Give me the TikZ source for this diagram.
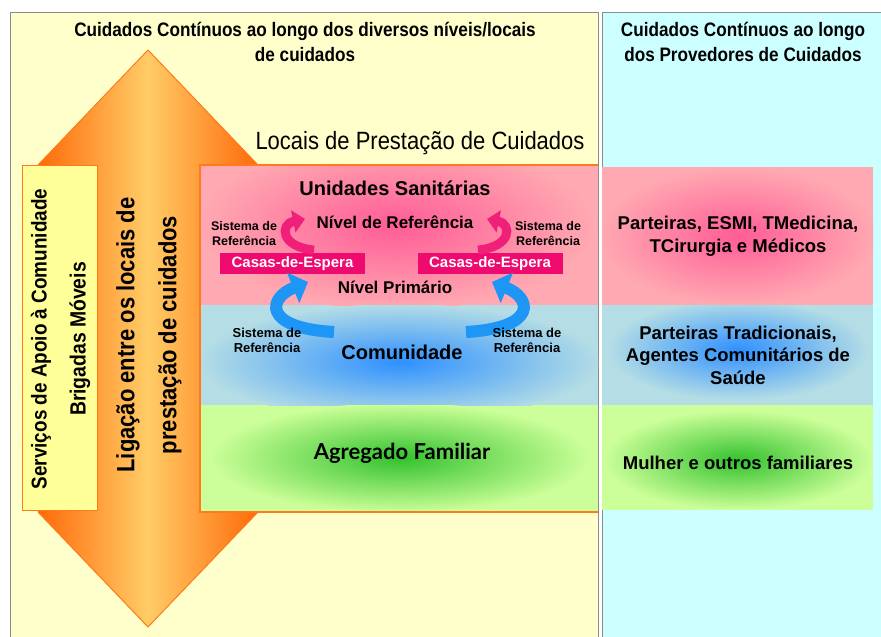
\documentclass[tikz,border=0pt]{standalone}
\usepackage{fontspec}
\setmainfont{Liberation Sans}
\newfontfamily\condf{Liberation Sans}[FakeStretch=0.88]
\newfontfamily\latof{Lato}
\usetikzlibrary{arrows.meta}
\definecolor{panelY}{HTML}{FFFFCC}
\definecolor{panelC}{HTML}{CCFFFF}
\definecolor{borderG}{HTML}{8C8C8C}
\definecolor{pinkB}{HTML}{FFAAB2}
\definecolor{pinkC}{HTML}{FF5C96}
\definecolor{blueB}{HTML}{B4DDE5}
\definecolor{blueC}{HTML}{2E90FF}
\definecolor{greenB}{HTML}{CCFF99}
\definecolor{greenC}{HTML}{33C22E}
\definecolor{orD}{HTML}{FF6A0A}
\definecolor{orL}{HTML}{FFCC66}
\definecolor{orLine}{HTML}{FF7A1A}
\definecolor{boxY}{HTML}{FFFF99}
\definecolor{casa}{HTML}{EE0A6E}
\definecolor{arrP}{HTML}{F0207A}
\definecolor{arrB}{HTML}{1E96F5}
\tikzset{
  hdr/.style={font=\condf\bfseries\fontsize{19.5}{25}\selectfont, align=center, inner sep=0pt},
  lbl/.style={font=\bfseries\fontsize{#1}{#1}\selectfont, align=center, inner sep=0pt},
  small/.style={font=\bfseries\fontsize{#1}{15}\selectfont, align=center, inner sep=0pt},
  casabox/.style={fill=casa, text=white, minimum width=145pt, minimum height=21pt, inner sep=0pt, font=\bfseries\fontsize{15}{15}\selectfont},
  rtext/.style={rotate=90, align=center, inner sep=0pt},
  parrow/.style={arrP, line width=9pt, -{Triangle[length=12pt, width=22pt]}},
  barrow/.style={arrB, line width=12pt, -{Triangle[length=16pt, width=32pt]}}
}
\begin{document}
\begin{tikzpicture}[x=1pt, y=-1pt]
\useasboundingbox (0,0) rectangle (881,637);
% panels
\draw[borderG, fill=panelY, line width=1pt] (10,12) rectangle (598,650);
\draw[borderG, fill=panelC, line width=1pt] (602,12) rectangle (895,650);
% big double arrow
\shadedraw[draw=orLine, line width=1pt, left color=orD, right color=orD, middle color=orL]
  (148,50) -- (258,165) -- (258,512) -- (148,627) -- (38,512) -- (38,165) -- cycle;
% service box
\node[draw=orLine, fill=boxY, minimum width=75pt, minimum height=345pt, anchor=north west, inner sep=0pt, line width=1pt] (svc) at (22,165) {};
% bands left
\fill[pinkB] (200,165) rectangle (598,305);
\fill[blueB] (200,305) rectangle (598,405);
\fill[greenB] (200,405) rectangle (598,512);
\begin{scope}
  \clip (200,165) rectangle (598,305);
  \shade[inner color=pinkC, outer color=pinkB] (396,225) ellipse (200pt and 85pt);
\end{scope}
\begin{scope}
  \clip (200,305) rectangle (598,405);
  \shade[inner color=blueC, outer color=blueB] (400,362) ellipse (200pt and 58pt);
\end{scope}
\begin{scope}
  \clip (200,405) rectangle (598,512);
  \shade[inner color=greenC, outer color=greenB] (400,458) ellipse (190pt and 55pt);
\end{scope}
\draw[orLine, line width=1.2pt] (598,165) -- (200,165) -- (200,512) -- (598,512);
% bands right
\fill[pinkB] (602,167) rectangle (873,305);
\fill[blueB] (602,305) rectangle (873,405);
\fill[greenB] (602,405) rectangle (873,510);
\begin{scope}
  \clip (602,167) rectangle (873,305);
  \shade[inner color=pinkC, outer color=pinkB] (738,236) ellipse (140pt and 70pt);
\end{scope}
\begin{scope}
  \clip (602,305) rectangle (873,405);
  \shade[inner color=blueC, outer color=blueB] (738,350) ellipse (130pt and 50pt);
\end{scope}
\begin{scope}
  \clip (602,405) rectangle (873,510);
  \shade[inner color=greenC, outer color=greenB] (738,460) ellipse (135pt and 50pt);
\end{scope}
% headers
\node[hdr] (h1) at (305,42) {Cuidados Contínuos ao longo dos diversos níveis/locais\\de cuidados};
\node[hdr] (h2) at (743,42) {Cuidados Contínuos ao longo\\dos Provedores de Cuidados};
\node[inner sep=0pt, font=\condf\fontsize{25}{27}\selectfont] (loc) at (420,143) {Locais de Prestação de Cuidados};
% rotated texts
\node[rtext, font=\condf\bfseries\fontsize{21.5}{20}\selectfont] (svct) at (41,339) {Serviços de Apoio à Comunidade};
\node[rtext, font=\condf\bfseries\fontsize{22}{20}\selectfont] (brig) at (80,339) {Brigadas Móveis};
\node[rtext, font=\condf\bfseries\fontsize{25}{42}\selectfont] (lig) at (149,335) {Ligação entre os locais de\\prestação de cuidados};
% casas
\node[casabox] (ce1) at (292.5,263.5) {Casas-de-Espera};
\node[casabox] (ce2) at (490,263.5) {Casas-de-Espera};
% pink band texts
\node[lbl=20] (us) at (395,188) {Unidades Sanitárias};
\node[lbl=17] (nr) at (395,222) {Nível de Referência};
\node[lbl=17] (np) at (395,287) {Nível Primário};
\node[small=12.5] (sr1) at (244,234) {Sistema de\\Referência};
\node[small=12.5] (sr2) at (548,234) {Sistema de\\Referência};
% curved arrows
\coordinate (pa1) at (314,250);
\coordinate (pa1e) at (305,219);
\coordinate (pa2) at (478,250);
\coordinate (pa2e) at (487,219);
\draw[parrow] (pa1) .. controls (280,247) and (280,224) .. (pa1e);
\draw[parrow] (pa2) .. controls (512,247) and (512,224) .. (pa2e);
\coordinate (ba1) at (334,332);
\coordinate (ba1e) at (308,282);
\coordinate (ba2) at (466,332);
\coordinate (ba2e) at (492,282);
\draw[barrow] (ba1) .. controls (262,328) and (268,298) .. (ba1e);
\draw[barrow] (ba2) .. controls (538,328) and (532,298) .. (ba2e);
% blue band texts
\node[small=13] (sr3) at (267,340) {Sistema de\\Referência};
\node[small=13] (sr4) at (527,340) {Sistema de\\Referência};
\node[lbl=20] (com) at (402,352) {Comunidade};
\node[inner sep=0pt, font=\latof\bfseries\fontsize{22}{22}\selectfont] (agr) at (402,453) {Agregado Familiar};
% right texts
\node[font=\bfseries\fontsize{18.5}{23}\selectfont, align=center, inner sep=0pt] (prov1) at (738,236) {Parteiras, ESMI, TMedicina,\\TCirurgia e Médicos};
\node[font=\bfseries\fontsize{18.5}{22.5}\selectfont, align=center, inner sep=0pt] (prov2) at (738,355) {Parteiras Tradicionais,\\Agentes Comunitários de\\Saúde};
\node[font=\bfseries\fontsize{18.5}{18.5}\selectfont, align=center, inner sep=0pt] (prov3) at (738,463) {Mulher e outros familiares};
\end{tikzpicture}
\end{document}
